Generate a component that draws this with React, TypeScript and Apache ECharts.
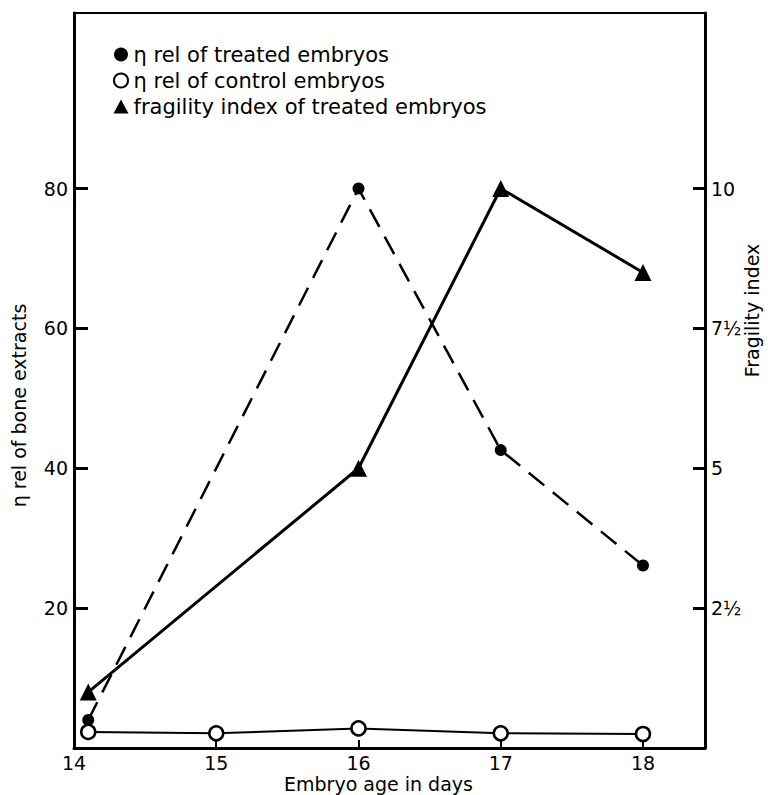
import React, { useEffect, useRef } from "react";
import * as echarts from "echarts";

const days = [14.1, 15, 16, 17, 18];
const treatedDays = [14.1, 16, 17, 18];
const treatedVisc = [4, 80, 42.6, 26.1];
const controlVisc = [2.3, 2.1, 2.8, 2.1, 2.0];
const fragilityDays = [14.1, 16, 17, 18];
const fragility = [1.0, 5, 10, 8.5];
const leftTicks = [20, 40, 60, 80];
const rightTicks = [2.5, 5, 7.5, 10];
const rightTickLabels: Record<string, string> = { "2.5": "2½", "5": "5", "7.5": "7½", "10": "10" };
const xTicks = [14, 15, 16, 17, 18];

const FONT = "DejaVu Sans";

export default function App() {
  const ref = useRef<HTMLDivElement>(null);
  useEffect(() => {
    if (!ref.current) return;
    const chart = echarts.init(ref.current, undefined, { renderer: "svg" });
    const labelStyle = { color: "#000", fontFamily: FONT, fontSize: 19 };
    const titleStyle = { color: "#000", fontFamily: FONT, fontSize: 19 };
    chart.setOption({
      animation: false,
      backgroundColor: "#fff",
      grid: {
        left: 74,
        right: 63,
        top: 13,
        bottom: 47,
        containLabel: false,
        outerBoundsMode: "none",
        show: true,
        borderColor: "#000",
        borderWidth: 2,
        backgroundColor: "transparent",
      },
      legend: {
        orient: "vertical",
        left: 108,
        top: 39,
        itemWidth: 15,
        itemHeight: 14,
        itemGap: 5,
        textStyle: { ...titleStyle, fontSize: 21, lineHeight: 20 },
        data: [
          { name: "η rel of treated embryos", icon: "circle" },
          { name: "η rel of control embryos", icon: "circle" },
          { name: "fragility index of treated embryos", icon: "triangle" },
        ],
      },
      xAxis: {
        type: "value",
        min: 14,
        max: 18.436,
        interval: 1,
        name: "Embryo age in days",
        nameLocation: "middle",
        nameMoveOverlap: false,
        nameGap: 26,
        nameTextStyle: { ...titleStyle, padding: [0, 22, 0, 0] },
        axisLine: { onZero: false, lineStyle: { color: "#000", width: 3 } },
        axisTick: { inside: true, length: 8, lineStyle: { color: "#000", width: 2 }, customValues: xTicks },
        axisLabel: { ...labelStyle, margin: 5, customValues: xTicks, formatter: (v: number) => String(v) },
        splitLine: { show: false },
      },
      yAxis: [
        {
          type: "value",
          min: 0,
          max: 105.1,
          name: "η rel of bone extracts",
          nameLocation: "middle",
          nameMoveOverlap: false,
          nameRotate: 90,
          nameGap: 46,
          nameTextStyle: { ...titleStyle, padding: [0, 50, 0, 0] },
          axisLine: { onZero: false, lineStyle: { color: "#000", width: 3 } },
          axisTick: { inside: true, length: 14, lineStyle: { color: "#000", width: 3 }, customValues: leftTicks },
          axisLabel: { ...labelStyle, margin: 6, customValues: leftTicks },
          splitLine: { show: false },
        },
        {
          type: "value",
          position: "right",
          min: 0,
          max: 105.1 / 8,
          name: "Fragility index",
          nameLocation: "middle",
          nameMoveOverlap: false,
          nameRotate: 90,
          nameGap: 37,
          nameTextStyle: { ...titleStyle, padding: [0, 0, 0, 140] },
          axisLine: { onZero: false, lineStyle: { color: "#000", width: 3 } },
          axisTick: { inside: true, length: 12, lineStyle: { color: "#000", width: 3 }, customValues: rightTicks },
          axisLabel: {
            ...labelStyle,
            margin: 6,
            customValues: rightTicks,
            formatter: (v: number) => rightTickLabels[String(v)] ?? String(v),
          },
          splitLine: { show: false },
        },
      ],
      series: [
        {
          name: "η rel of treated embryos",
          type: "line",
          data: treatedDays.map((d, i) => [d, treatedVisc[i]]),
          symbol: "circle",
          symbolSize: 12,
          itemStyle: { color: "#000" },
          lineStyle: { color: "#000", width: 2.5, type: [20, 11] },
          z: 3,
        },
        {
          name: "η rel of control embryos",
          type: "line",
          data: days.map((d, i) => [d, controlVisc[i]]),
          symbol: "circle",
          symbolSize: 14,
          itemStyle: { color: "#fff", borderColor: "#000", borderWidth: 2.5 },
          lineStyle: { color: "#000", width: 2 },
          z: 4,
        },
        {
          name: "fragility index of treated embryos",
          type: "line",
          yAxisIndex: 1,
          data: fragilityDays.map((d, i) => [d, fragility[i]]),
          symbol: "triangle",
          symbolSize: 17,
          itemStyle: { color: "#000" },
          lineStyle: { color: "#000", width: 3 },
          z: 3,
        },
      ],
    });
    return () => chart.dispose();
  }, []);
  return (
    <div
      ref={ref}
      style={{ position: "fixed", left: 0, top: 0, width: 768, height: 795, background: "#fff" }}
    />
  );
}
